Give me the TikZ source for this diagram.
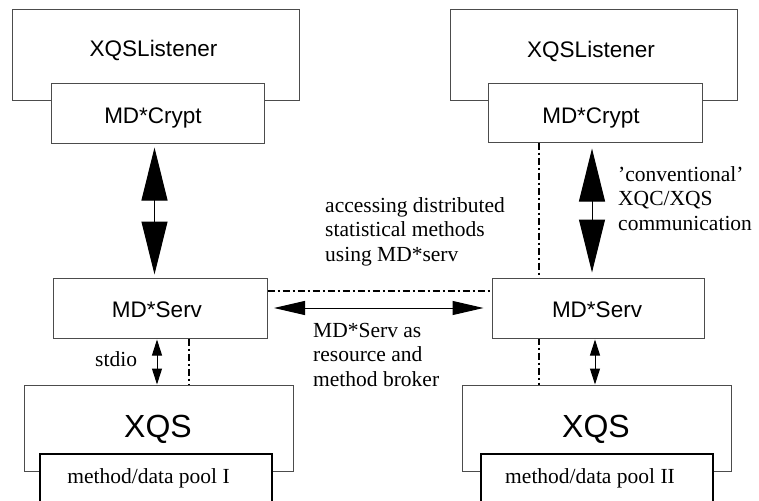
\documentclass[tikz,border=0pt]{standalone}
\usepackage{fontspec}
\setmainfont{Liberation Serif}
\newfontfamily\hvfont{Liberation Sans}
\usetikzlibrary{arrows.meta}
\tikzset{
  box/.style={draw=black!70, line width=1pt, fill=white, inner sep=0pt},
  poolbox/.style={draw=black, line width=2.6pt, fill=white, inner sep=0pt},
  hvlabel/.style={font=\hvfont\fontsize{22.5}{27}\selectfont, inner sep=0pt, anchor=base},
  biglabel/.style={font=\hvfont\fontsize{32}{38}\selectfont, inner sep=0pt, anchor=base},
  tmlabel/.style={font=\fontsize{21.5}{24.5}\selectfont, inner sep=0pt, anchor=base west},
  bigarrow/.style={{Triangle[length=53pt,width=26pt]}-{Triangle[length=53pt,width=26pt]}, line width=1pt},
  midarrow/.style={{Triangle[length=31pt,width=14pt]}-{Triangle[length=31pt,width=14pt]}, line width=1pt},
  smallarrow/.style={{Triangle[length=16pt,width=10pt]}-{Triangle[length=16pt,width=10pt]}, line width=1pt},
  dashdot/.style={line width=1.6pt, dash pattern=on 7pt off 3pt on 2pt off 3pt}
}
\begin{document}
\begin{tikzpicture}[x=1pt,y=-1pt]
\useasboundingbox (0,0) rectangle (759,500);
% listener boxes
\node[box, minimum width=287pt, minimum height=91pt] (llist) at (155.5,55.5) {};
\node[box, minimum width=287pt, minimum height=91pt] (rlist) at (593.5,55.5) {};
\node[hvlabel] (llistt) at (153.5,57) {XQSListener};
\node[hvlabel] (rlistt) at (591,57.5) {XQSListener};
% crypt boxes
\node[box, minimum width=213pt, minimum height=59pt] (lcrypt) at (157.5,113.5) {};
\node[box, minimum width=214pt, minimum height=58pt] (rcrypt) at (595,113) {};
\node[hvlabel] (lcryptt) at (153,123) {MD*Crypt};
\node[hvlabel] (rcryptt) at (591,124) {MD*Crypt};
% XQS boxes
\node[box, minimum width=269pt, minimum height=86pt] (lxqs) at (158.5,428) {};
\node[box, minimum width=269pt, minimum height=86pt] (rxqs) at (596.5,428) {};
\node[biglabel] (lxqst) at (158,437) {XQS};
\node[biglabel] (rxqst) at (596,437) {XQS};
% pool boxes
\node[poolbox, minimum width=232pt, minimum height=52pt] (lpool) at (156,480) {};
\node[poolbox, minimum width=232pt, minimum height=52pt] (rpool) at (597,480) {};
\node[tmlabel, anchor=base] (lpoolt) at (148.5,483) {method/data pool I};
\node[tmlabel, anchor=base] (rpoolt) at (590,483) {method/data pool II};
% right vertical dash-dot (behind right serv box)
\coordinate (rdd) at (539,0);
\draw[dashdot] (rdd |- rcrypt.south) -- (rdd |- rxqs.north);
% serv boxes
\node[box, minimum width=214pt, minimum height=60pt] (lserv) at (160,308) {};
\node[box, minimum width=212pt, minimum height=60pt] (rserv) at (598,308) {};
\node[hvlabel] (lservt) at (157,317) {MD*Serv};
\node[hvlabel] (rservt) at (597,317) {MD*Serv};
% left vertical dash-dot
\coordinate (ldd) at (189,0);
\draw[dashdot] (ldd |- lserv.south) -- (ldd |- lxqs.north);
% horizontal dash-dot
\draw[dashdot] ([yshift=17pt]lserv.east) -- ([yshift=17pt]rserv.west);
% arrows
\draw[bigarrow, shorten <=4pt, shorten >=3pt] ([xshift=-3pt]lcrypt.south) -- ([xshift=-5.5pt]lserv.north);
\draw[bigarrow, shorten <=6pt, shorten >=5pt] ([xshift=-3pt]rcrypt.south) -- ([xshift=-6pt]rserv.north);
\draw[midarrow, shorten <=6.5pt, shorten >=8pt] (lserv.east) -- (rserv.west);
\draw[smallarrow, shorten <=1pt] ([xshift=-3pt]lserv.south) -- ([xshift=-1.5pt]lxqs.north);
\draw[smallarrow, shorten <=1pt] ([xshift=-3pt]rserv.south) -- ([xshift=-1.5pt]rxqs.north);
% text labels
\node[tmlabel] (acc) at (325,212) {\begin{tabular}[t]{@{}l@{}}accessing distributed\\statistical methods\\using MD*serv\end{tabular}};
\node[tmlabel] (conv) at (618,181) {\begin{tabular}[t]{@{}l@{}}'conventional'\\XQC/XQS\\communication\end{tabular}};
\node[tmlabel] (broker) at (313,337) {\begin{tabular}[t]{@{}l@{}}MD*Serv as\\resource and\\method broker\end{tabular}};
\node[tmlabel] (stdio) at (95,366) {stdio};
\end{tikzpicture}
\end{document}
